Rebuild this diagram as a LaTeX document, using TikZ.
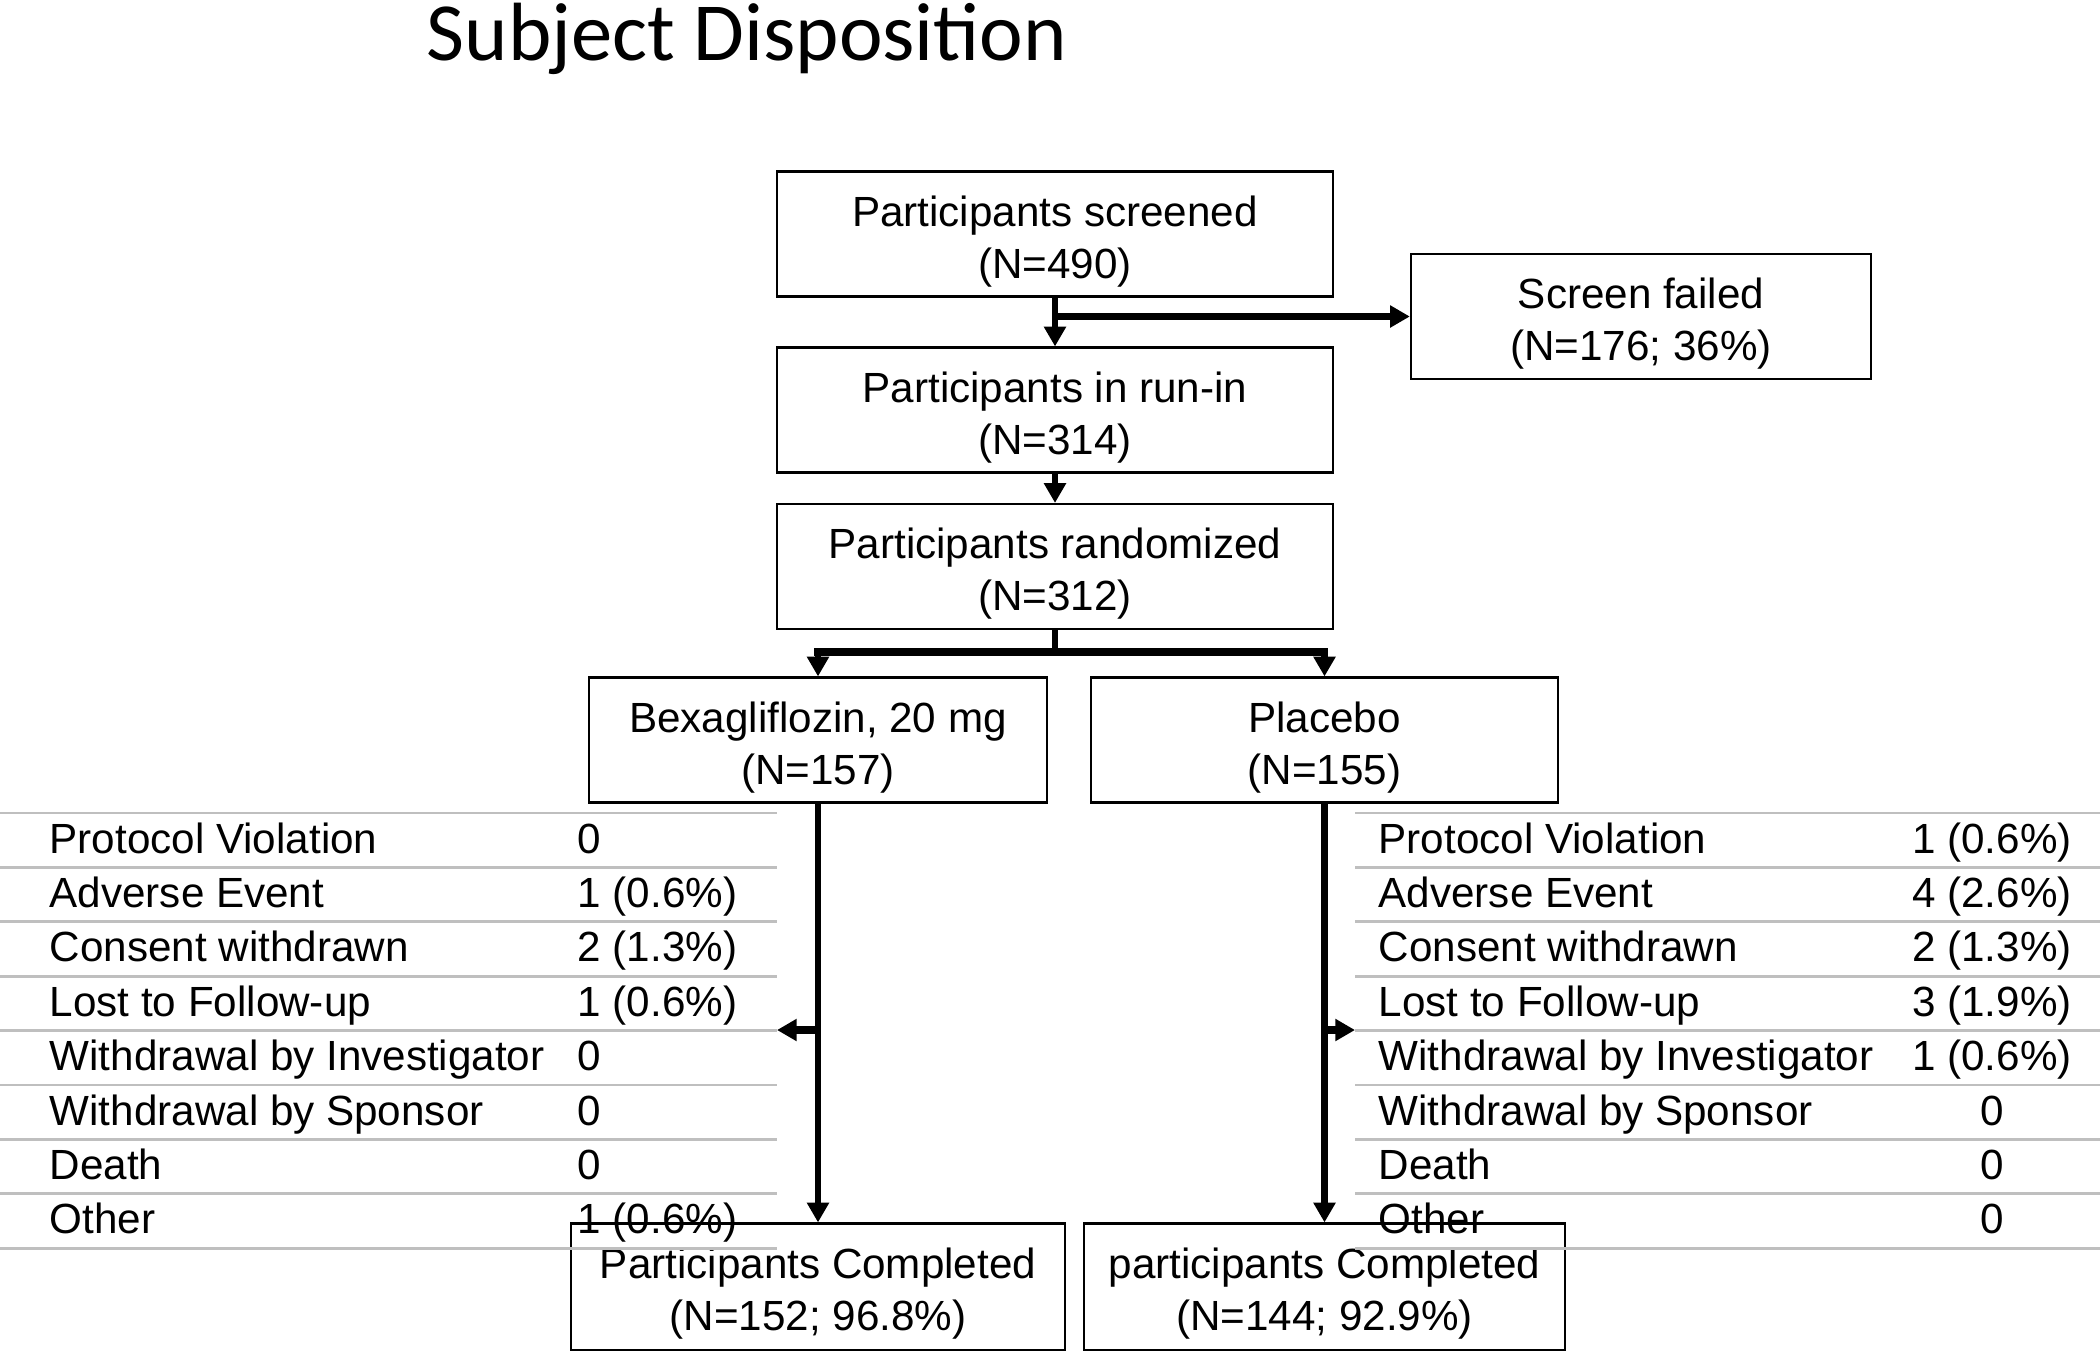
\documentclass[tikz,border=0pt]{standalone}
\usepackage{fontspec}
\setmainfont{Liberation Sans}
\newfontfamily\titlefont{Carlito}
\usetikzlibrary{arrows.meta}
\definecolor{rulegray}{HTML}{BFBFBF}
\newcommand\toppad{\rule{0pt}{12.8pt}}
\tikzset{
  box/.style={draw=black,line width=0.6pt,align=center,inner sep=0pt,
    minimum height=1.25cm,font=\fontsize{12}{14.8}\selectfont},
  flow/.style={line width=1.9pt,-{Triangle[length=5.6pt,width=6pt]}},
  bar/.style={line width=2.1pt},
  rule/.style={draw=rulegray,line width=0.8pt},
  rowtxt/.style={anchor=base west,inner sep=0pt,font=\fontsize{12}{14.8}\selectfont},
}
\begin{document}
\begin{tikzpicture}[line cap=butt,x=0.01cm,y=-0.01cm]
\useasboundingbox (0,0) rectangle (2100,1351);
\node[anchor=base west,inner sep=0pt,font=\titlefont\fontsize{23.5}{28}\selectfont] (title) at (426,60) {Subject Disposition};
% flow boxes
\node[box,minimum width=5.56cm] (screen) at (1055,234) {\toppad Participants screened\\(N=490)};
\node[box,minimum width=4.60cm] (failed) at (1641,316.5) {\toppad Screen failed\\(N=176; 36\%)};
\node[box,minimum width=5.56cm] (runin) at (1055,410) {\toppad Participants in run-in\\(N=314)};
\node[box,minimum width=5.56cm] (random) at (1055,566.5) {\toppad Participants randomized\\(N=312)};
\node[box,minimum width=4.57cm] (bexa) at (818,740) {\toppad Bexagliflozin, 20 mg\\(N=157)};
\node[box,minimum width=4.67cm] (placebo) at (1324.5,740) {\toppad Placebo\\(N=155)};
\node[box,minimum width=4.93cm,minimum height=1.26cm] (compL) at (818,1286.5) {\toppad Participants Completed\\(N=152; 96.8\%)};
\node[box,minimum width=4.81cm,minimum height=1.26cm] (compR) at (1324.5,1286.5) {\toppad participants Completed\\(N=144; 92.9\%)};
% connectors
\coordinate (sf) at (screen.south |- failed.west);
\coordinate (split) at (1055,652);
\coordinate (lout) at (777,1030);
\coordinate (rout) at (1355,1030);
\draw[flow] (screen.south) -- (runin.north);
\draw[flow,bar] (sf) -- (failed.west);
\draw[flow] (runin.south) -- (random.north);
\draw[line width=1.9pt] (random.south) -- (split);
\draw[bar,line cap=rect] (bexa.north |- split) -- (placebo.north |- split);
\draw[flow] (bexa.north |- split) -- (bexa.north);
\draw[flow] (placebo.north |- split) -- (placebo.north);
\draw[flow] (bexa.south) -- (compL.north);
\draw[flow] (placebo.south) -- (compR.north);
\draw[flow,bar] (bexa.south |- lout) -- (lout);
\draw[flow,bar] (placebo.south |- rout) -- (rout);
% withdrawal tables
\foreach \k in {0,...,8} {
  \draw[rule] (0,{813+54.4*\k}) -- (777,{813+54.4*\k});
  \draw[rule] (1355,{813+54.4*\k}) -- (2100,{813+54.4*\k});
}
\foreach \lab/\lval/\rval [count=\i from 0] in {Protocol Violation/0/1 (0.6\%),
    Adverse Event/1 (0.6\%)/4 (2.6\%), Consent withdrawn/2 (1.3\%)/2 (1.3\%),
    Lost to Follow-up/1 (0.6\%)/3 (1.9\%), Withdrawal by Investigator/0/1 (0.6\%),
    Withdrawal by Sponsor/0/0, Death/0/0, Other/1 (0.6\%)/0} {
  \node[rowtxt] (ll\i) at (49,{853+54.4*\i}) {\lab};
  \node[rowtxt] (lv\i) at (577,{853+54.4*\i}) {\lval};
  \node[rowtxt] (rl\i) at (1378,{853+54.4*\i}) {\lab};
  \node[rowtxt,anchor=base] (rv\i) at (1992,{853+54.4*\i}) {\rval};
}
\end{tikzpicture}
\end{document}
